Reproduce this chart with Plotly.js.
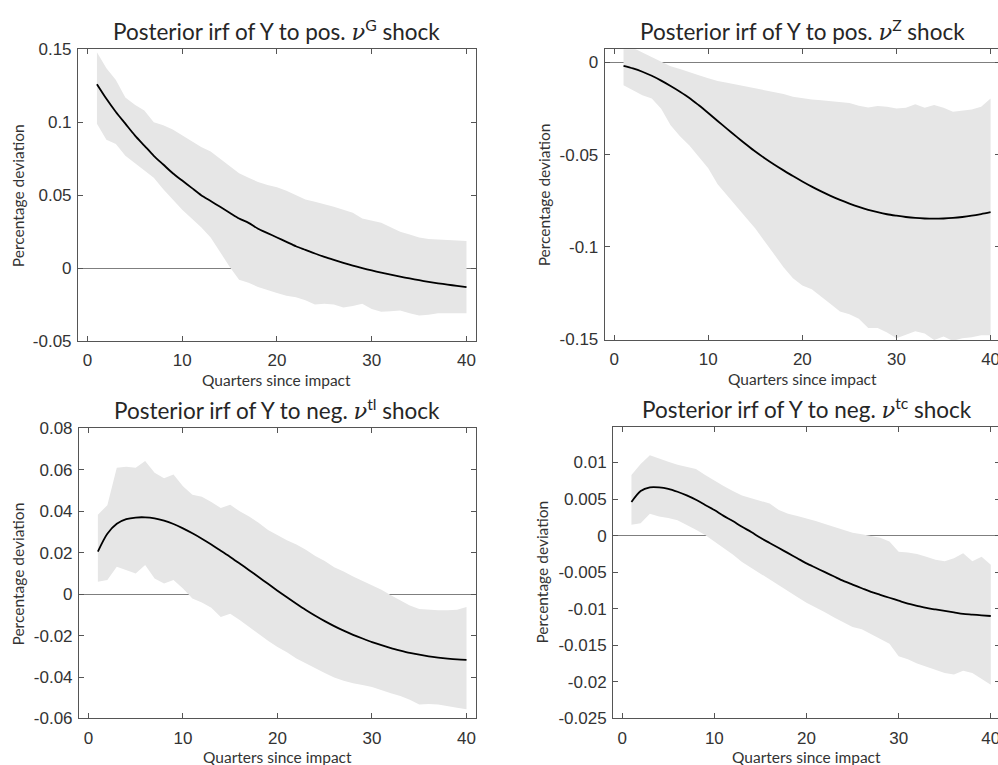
<!DOCTYPE html>
<html>
<head>
<meta charset="utf-8">
<script src="https://cdn.plot.ly/plotly-3.0.1.min.js"></script>
<style>
  html, body { margin: 0; padding: 0; overflow: hidden; background: #ffffff; }
  #chart { width: 1001px; height: 765px; }
</style>
</head>
<body>
<div id="chart"></div>
<script>
// Horizon in quarters
const quarters = Array.from({length: 40}, (_, k) => k + 1);

// Panel 1: positive nu^G shock
const gMedian = [0.126,0.116,0.107,0.099,0.091,0.084,0.077,0.071,0.065,0.060,
                 0.055,0.050,0.046,0.042,0.038,0.034,0.031,0.027,0.024,0.021,
                 0.018,0.015,0.0125,0.010,0.0077,0.0056,0.0036,0.0017,0.0,-0.0016,
                 -0.0031,-0.0045,-0.0058,-0.0071,-0.0083,-0.0094,-0.0104,-0.0113,-0.0122,-0.013];
const gUpper  = [0.148,0.137,0.129,0.117,0.112,0.108,0.100,0.098,0.095,0.091,
                 0.087,0.083,0.080,0.075,0.070,0.065,0.062,0.059,0.057,0.0555,
                 0.053,0.050,0.047,0.0455,0.044,0.042,0.040,0.038,0.034,0.0325,
                 0.031,0.028,0.025,0.023,0.021,0.020,0.0195,0.019,0.019,0.0185];
const gLower  = [0.099,0.088,0.085,0.077,0.072,0.067,0.062,0.054,0.047,0.040,
                 0.034,0.028,0.021,0.011,0.001,-0.008,-0.010,-0.013,-0.015,-0.017,
                 -0.019,-0.020,-0.022,-0.025,-0.0245,-0.025,-0.027,-0.026,-0.0245,-0.028,
                 -0.030,-0.0295,-0.029,-0.031,-0.0325,-0.032,-0.031,-0.031,-0.031,-0.031];

// Panel 2: positive nu^Z shock
const zMedian = [-0.0018,-0.0032,-0.005,-0.0072,-0.0098,-0.0127,-0.0158,-0.0192,-0.0232,-0.0274,
                 -0.0317,-0.036,-0.0402,-0.0443,-0.0483,-0.0519,-0.0553,-0.0585,-0.0616,-0.0645,
                 -0.0673,-0.0699,-0.0723,-0.0745,-0.0765,-0.0783,-0.0799,-0.0812,-0.0823,-0.0831,
                 -0.0838,-0.0843,-0.0846,-0.0847,-0.0846,-0.0843,-0.0838,-0.0831,-0.0822,-0.0812];
const zUpper  = [0.008,0.008,0.0055,0.003,0.0004,-0.002,-0.0035,-0.005,-0.0069,-0.0085,
                 -0.010,-0.011,-0.012,-0.013,-0.014,-0.015,-0.016,-0.017,-0.0185,-0.0193,
                 -0.020,-0.0204,-0.021,-0.0213,-0.022,-0.0235,-0.0244,-0.0236,-0.024,-0.0249,
                 -0.0245,-0.0226,-0.0245,-0.023,-0.0245,-0.0267,-0.0262,-0.0255,-0.024,-0.0195];
const zLower  = [-0.0123,-0.015,-0.0177,-0.0195,-0.025,-0.034,-0.040,-0.045,-0.051,-0.0574,
                 -0.066,-0.072,-0.078,-0.084,-0.090,-0.097,-0.104,-0.111,-0.117,-0.121,
                 -0.123,-0.127,-0.131,-0.135,-0.1365,-0.139,-0.144,-0.144,-0.1465,-0.1495,
                 -0.1475,-0.1458,-0.147,-0.1505,-0.1486,-0.151,-0.1495,-0.149,-0.148,-0.148];

// Panel 3: negative nu^tl shock
const tlMedian = [0.0206,0.0292,0.034,0.0362,0.037,0.0371,0.0366,0.0355,0.0339,0.0318,
                  0.0294,0.0268,0.024,0.021,0.018,0.0148,0.0116,0.0083,0.005,0.0017,
                  -0.0015,-0.0046,-0.0076,-0.0104,-0.013,-0.0154,-0.0176,-0.0196,-0.0214,-0.0231,
                  -0.0246,-0.026,-0.0272,-0.0283,-0.0292,-0.03,-0.0306,-0.0311,-0.0315,-0.0317];
const tlUpper  = [0.0384,0.043,0.061,0.0615,0.061,0.0643,0.0586,0.056,0.0578,0.0521,
                  0.048,0.047,0.0445,0.0416,0.0432,0.040,0.0375,0.0345,0.031,0.0285,
                  0.026,0.024,0.0215,0.0185,0.016,0.013,0.011,0.0085,0.0063,0.0045,
                  0.0022,-0.0005,-0.003,-0.0055,-0.0072,-0.0076,-0.0078,-0.0078,-0.0075,-0.0062];
const tlLower  = [0.006,0.0068,0.0133,0.0117,0.010,0.0141,0.0076,0.0052,0.0068,0.0028,
                  -0.0021,-0.004,-0.0065,-0.011,-0.0094,-0.0124,-0.0158,-0.019,-0.0225,-0.0255,
                  -0.028,-0.031,-0.0335,-0.0357,-0.038,-0.0402,-0.0418,-0.043,-0.0438,-0.0448,
                  -0.0463,-0.0478,-0.0491,-0.051,-0.0532,-0.053,-0.0532,-0.054,-0.0548,-0.0555];

// Panel 4: negative nu^tc shock
const tcMedian = [0.0046,0.0061,0.0066,0.0066,0.0064,0.006,0.0055,0.0049,0.0042,0.0035,
                  0.0027,0.002,0.0012,0.0005,-0.0003,-0.001,-0.0017,-0.0024,-0.0031,-0.0038,
                  -0.0044,-0.005,-0.0056,-0.0062,-0.0067,-0.0072,-0.0077,-0.0081,-0.0085,-0.0089,
                  -0.0093,-0.0096,-0.0099,-0.0101,-0.0103,-0.0105,-0.0107,-0.0108,-0.0109,-0.011];
const tcUpper  = [0.0083,0.0098,0.011,0.0105,0.0101,0.0097,0.0094,0.0091,0.0083,0.0075,
                  0.0068,0.0061,0.0055,0.0051,0.0048,0.0044,0.0035,0.003,0.0027,0.0024,
                  0.002,0.0016,0.0012,0.0008,0.0004,0.0002,0.0,-0.0003,-0.0008,-0.0022,
                  -0.0023,-0.0025,-0.0029,-0.0033,-0.0035,-0.0031,-0.0024,-0.0035,-0.0029,-0.004];
const tcLower  = [0.0015,0.0017,0.003,0.0026,0.0024,0.0021,0.0015,0.0008,0.0001,-0.0007,
                  -0.0017,-0.0026,-0.0036,-0.0045,-0.0053,-0.006,-0.0068,-0.0076,-0.0084,-0.0092,
                  -0.0099,-0.0105,-0.0112,-0.0119,-0.0125,-0.0128,-0.0134,-0.0141,-0.0148,-0.0165,
                  -0.0169,-0.0175,-0.0179,-0.0184,-0.0188,-0.019,-0.0185,-0.0188,-0.0196,-0.0204];

// Tick values
const xTicks   = [0, 10, 20, 30, 40];
const gTicks   = [-0.05, 0, 0.05, 0.1, 0.15];
const zTicks   = [-0.15, -0.1, -0.05, 0];
const tlTicks  = [-0.06, -0.04, -0.02, 0, 0.02, 0.04, 0.06, 0.08];
const tcTicks  = [-0.025, -0.02, -0.015, -0.01, -0.005, 0, 0.005, 0.01];

// Panel titles
const nu = '<span style="font-family:\'DejaVu Serif\',serif;font-style:italic">ν</span>';
const panelTitles = [
  'Posterior irf of Y to pos. ' + nu + '<sup>G</sup> shock',
  'Posterior irf of Y to pos. ' + nu + '<sup>Z</sup> shock',
  'Posterior irf of Y to neg. ' + nu + '<sup>tl</sup> shock',
  'Posterior irf of Y to neg. ' + nu + '<sup>tc</sup> shock'
];
const xLabel = 'Quarters since impact';
const yLabel = 'Percentage deviation';

const panels = [
  {median: gMedian,  upper: gUpper,  lower: gLower,  ticks: gTicks,  range: [-0.05, 0.15],
   xdom: [0.0779, 0.4755], ydom: [0.5542, 0.9356]},
  {median: zMedian,  upper: zUpper,  lower: zLower,  ticks: zTicks,  range: [-0.1505, 0.0072],
   xdom: [0.6041, 0.9990], ydom: [0.5556, 0.9356]},
  {median: tlMedian, upper: tlUpper, lower: tlLower, ticks: tlTicks, range: [-0.06, 0.08],
   xdom: [0.0789, 0.4755], ydom: [0.0608, 0.4399]},
  {median: tcMedian, upper: tcUpper, lower: tcLower, ticks: tcTicks, range: [-0.025, 0.0149],
   xdom: [0.6124, 0.9990], ydom: [0.0610, 0.4422]}
];

const W = 1001, H = 765;
const tickFont = {family: '"Liberation Sans", Arial, sans-serif', size: 17, color: '#333333'};
const textFont = 'Lato, "Open Sans", sans-serif';
const axisColor = '#555555';

const traces = [];
const layout = {
  width: W, height: H,
  margin: {l: 0, r: 0, t: 0, b: 0},
  paper_bgcolor: '#ffffff', plot_bgcolor: '#ffffff',
  showlegend: false,
  annotations: []
};

panels.forEach((p, k) => {
  const n = k + 1;
  const xa = n === 1 ? 'x' : 'x' + n;
  const ya = n === 1 ? 'y' : 'y' + n;

  // credible band
  traces.push({
    x: quarters.concat(quarters.slice().reverse()),
    y: p.upper.concat(p.lower.slice().reverse()),
    xaxis: xa, yaxis: ya,
    type: 'scatter', mode: 'lines',
    fill: 'toself', fillcolor: '#e6e6e6',
    line: {width: 0, color: 'rgba(0,0,0,0)'},
    hoverinfo: 'skip'
  });
  // posterior median
  traces.push({
    x: quarters, y: p.median,
    xaxis: xa, yaxis: ya,
    type: 'scatter', mode: 'lines',
    line: {color: '#000000', width: 1.8, shape: 'spline', smoothing: 0.8}
  });

  layout['xaxis' + (n === 1 ? '' : n)] = {
    domain: p.xdom, anchor: ya, range: [-1, 41],
    tickmode: 'array', tickvals: xTicks, ticktext: xTicks.map(String),
    ticks: 'inside', ticklen: 5, tickcolor: axisColor, tickwidth: 1,
    showline: true, linecolor: axisColor, linewidth: 1, mirror: 'ticks',
    showgrid: false, zeroline: false, tickfont: tickFont,
    ticklabelstandoff: 4, layer: 'above traces', fixedrange: true
  };
  layout['yaxis' + (n === 1 ? '' : n)] = {
    domain: p.ydom, anchor: xa, range: p.range,
    tickmode: 'array', tickvals: p.ticks, ticktext: p.ticks.map(String),
    ticks: 'inside', ticklen: 5, tickcolor: axisColor, tickwidth: 1,
    showline: true, linecolor: axisColor, linewidth: 1, mirror: 'ticks',
    showgrid: false, zeroline: true, zerolinecolor: '#7f7f7f', zerolinewidth: 1,
    tickfont: tickFont, ticklabelstandoff: 2, layer: 'above traces', fixedrange: true
  };

  const topPx = (1 - p.ydom[1]) * H;
  const botPx = (1 - p.ydom[0]) * H;
  const midX = (p.xdom[0] + p.xdom[1]) / 2;

  layout.annotations.push({
    text: panelTitles[k], xref: 'paper', yref: 'paper',
    x: midX, y: 1 - (topPx - 19) / H, xanchor: 'center', yanchor: 'middle',
    showarrow: false, font: {family: textFont, size: 22.5, color: '#262626'}
  });
  layout.annotations.push({
    text: xLabel, xref: 'paper', yref: 'paper',
    x: midX, y: 1 - (botPx + 39) / H, xanchor: 'center', yanchor: 'middle',
    showarrow: false, font: {family: textFont, size: 15.5, color: '#333333'}
  });
  layout.annotations.push({
    text: yLabel, xref: 'paper', yref: 'paper', textangle: -90,
    x: (p.xdom[0] * W - (k % 2 === 0 ? 60 : (k === 1 ? 61 : 71))) / W,
    y: (p.ydom[0] + p.ydom[1]) / 2, xanchor: 'center', yanchor: 'middle',
    showarrow: false, font: {family: textFont, size: 15.5, color: '#333333'}
  });
});

Plotly.newPlot('chart', traces, layout, {staticPlot: true, displayModeBar: false});
</script>
</body>
</html>
